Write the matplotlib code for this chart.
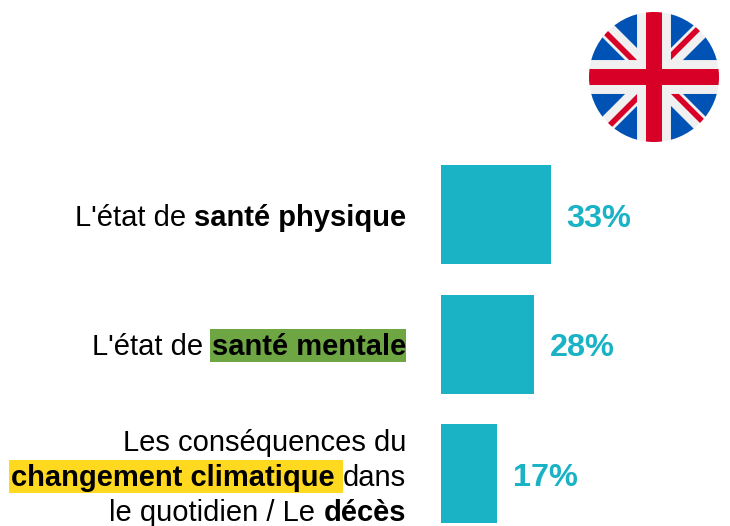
import matplotlib
matplotlib.use("Agg")
import matplotlib.pyplot as plt
from matplotlib.patches import Circle, Polygon, Rectangle

plt.rcParams['font.family'] = ['Liberation Sans', 'DejaVu Sans']

values = [33, 28, 17]
value_labels = ['33%', '28%', '17%']
categories = ["L'état de santé physique", "L'état de santé mentale",
              "Les conséquences du changement climatique dans le quotidien / Le décès"]

TEAL = '#1AB2C5'
GREEN = '#6FA644'
YELLOW = '#FFD820'
W, H = 730, 526
LABEL_SIZE = 21.0
VALUE_SIZE = 23.4

fig = plt.figure(figsize=(W / 100, H / 100), dpi=100, facecolor='white')

# bars
ax = fig.add_axes([441 / W, 0, (W - 441) / W, (H - 150) / H])
ax.barh(range(len(values)), values, height=0.765, color=TEAL)
ax.set_xlim(0, (W - 441) / 3.32)
ax.set_ylim(2.405, -0.5)
ax.axis('off')
for i, (v, t) in enumerate(zip(values, value_labels)):
    ax.annotate(t, (v, i), xytext=(11.5, -2.9), textcoords='offset points',
                ha='left', va='center', fontsize=VALUE_SIZE, fontweight='bold', color=TEAL)

# text overlay in pixel coordinates
ov = fig.add_axes([0, 0, 1, 1], zorder=3)
ov.set_xlim(0, W)
ov.set_ylim(H, 0)
ov.axis('off')
ov.patch.set_alpha(0)
renderer = fig.canvas.get_renderer()


def width(s, weight):
    def w(x):
        t = ov.text(0, 0, x, fontsize=LABEL_SIZE, fontweight=weight)
        e = t.get_window_extent(renderer).width
        t.remove()
        return e
    return w('x' + s + 'x') - w('xx')


def line(runs, baseline, right=406):
    x = right
    for s, weight, bg in reversed(runs):
        wd = width(s, weight)
        x -= wd
        if bg:
            ov.add_patch(Rectangle((x - 2, baseline - 26.5), wd + 2, 33, facecolor=bg, edgecolor='none', zorder=1))
        ov.text(x, baseline, s.rstrip(), fontsize=LABEL_SIZE, fontweight=weight, color='black',
                ha='left', va='baseline', zorder=2)


line([("L'état de ", 'normal', None), ("santé physique", 'bold', None)], 226)
line([("L'état de ", 'normal', None), ("santé mentale", 'bold', GREEN)], 355)
line([("Les conséquences du", 'normal', None)], 451)
line([("changement climatique ", 'bold', YELLOW), ("dans", 'normal', None)], 486)
line([("le quotidien / Le ", 'normal', None), ("décès", 'bold', None)], 521)

# flag
R = 65
fx = fig.add_axes([(654 - R) / W, (H - 77 - R) / H, 2 * R / W, 2 * R / H], zorder=2)
fx.set_xlim(0, 512)
fx.set_ylim(512, 0)
fx.axis('off')
disc = Circle((256, 256), 256, facecolor='#F0F0F0', edgecolor='none')
fx.add_patch(disc)
BLUE = '#0052B4'
RED = '#D80027'
blue_quarter = [[(142, 189.2), (-5, 42), (-5, 189.2)], [(189.2, 142), (42, -5), (189.2, -5)]]
for sx in (0, 1):
    for sy in (0, 1):
        def m(p):
            return [(512 - a if sx else a, 512 - b if sy else b) for a, b in p]
        for tri in blue_quarter:
            fx.add_patch(Polygon(m(tri), facecolor=BLUE, edgecolor='none', clip_path=disc))
# the four red diagonals, each sits on one side of its corner diagonal
red_polys = [
    [(189.2, 189.2), (50, 50), (27.7, 59.2), (157.7, 189.2)],
    [(322.8, 189.2), (462, 50), (440, 40.5), (322.8, 157.7)],
    [(322.8, 322.8), (462, 462), (484, 452.5), (354.3, 322.8)],
    [(189.2, 322.8), (50, 462), (70, 473.5), (189.2, 354.3)],
]
for p in red_polys:
    fx.add_patch(Polygon(p, facecolor=RED, edgecolor='none', clip_path=disc))
fx.add_patch(Rectangle((222.6, -5), 66.8, 522, facecolor=RED, edgecolor='none', clip_path=disc))
fx.add_patch(Rectangle((-5, 222.6), 522, 66.8, facecolor=RED, edgecolor='none', clip_path=disc))

fig.savefig('out.png', dpi=100, facecolor='white')
